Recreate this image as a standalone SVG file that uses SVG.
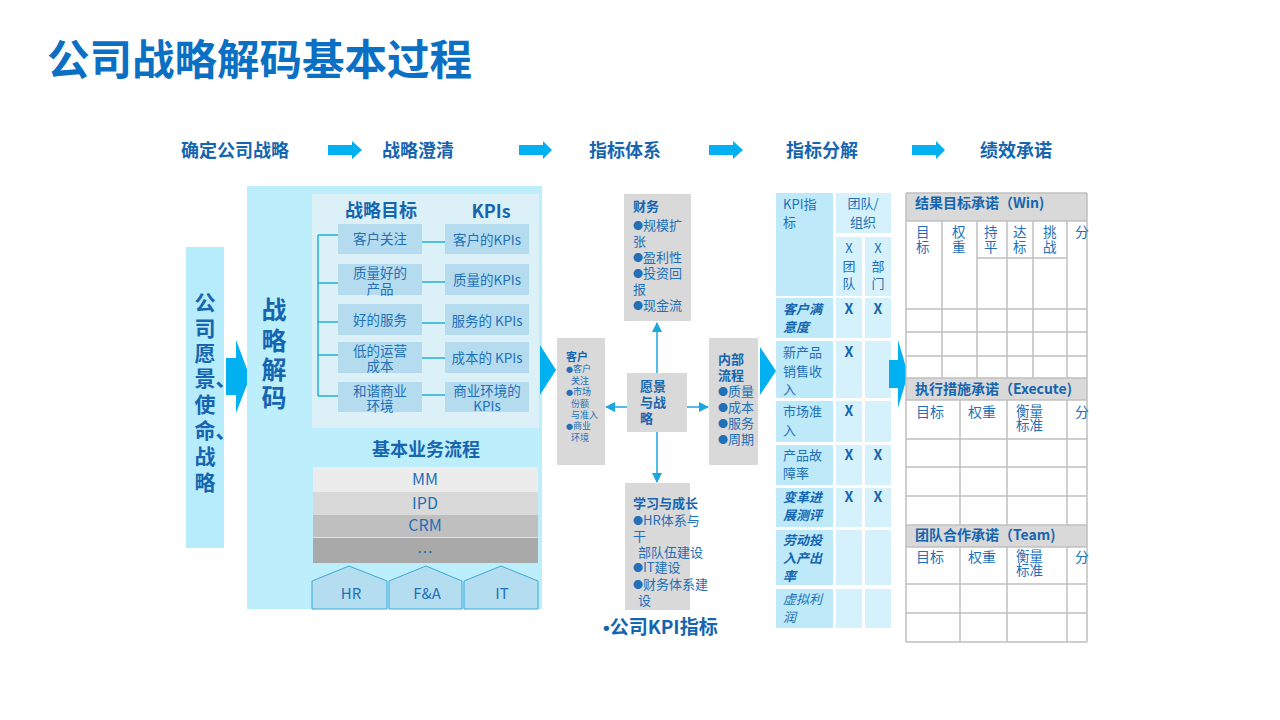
<svg xmlns="http://www.w3.org/2000/svg" width="1280" height="720" viewBox="0 0 1280 720">
<defs>
<style>
text{font-family:"Noto Sans CJK SC","Liberation Sans",sans-serif;fill:#2270b8}
.b{font-weight:bold;fill:#1565b0}
.t13{font-size:13px}
.c{text-anchor:middle}
.row{fill:#b5dcee}
.arr{fill:#00b0f0}
.ln{stroke:#1fb0d8;stroke-width:1.5;fill:none}
.g{stroke:#c0c0c0;stroke-width:1.5;fill:none}
.k1{fill:#bde9f9}
.k2{fill:#d5f1fb}
.hd{fill:#d9d9d9}
.mid{fill:#d9d9d9}
.cl{stroke:#1aa7e0;stroke-width:1.5;fill:none}
.bu{font-size:10px}
.bs{font-size:7px}
</style>
<marker id="ah" viewBox="0 0 10 10" refX="9" refY="5" markerWidth="7" markerHeight="7" orient="auto-start-reverse">
<path d="M0,0 L10,5 L0,10 z" fill="#1aa7e0"/>
</marker>
</defs>
<rect width="1280" height="720" fill="#ffffff"/>

<text x="47" y="75" style="font-size:42.5px;font-weight:bold;fill:#0b6fc4">公司战略解码基本过程</text>

<g id="header">
<text class="b c" x="235" y="157" style="font-size:18px">确定公司战略</text>
<text class="b c" x="418" y="157" style="font-size:18px">战略澄清</text>
<text class="b c" x="625" y="157" style="font-size:18px">指标体系</text>
<text class="b c" x="822" y="157" style="font-size:18px">指标分解</text>
<text class="b c" x="1016" y="157" style="font-size:18px">绩效承诺</text>
<polygon class="arr" points="328,145 352,145 352,141 362,150 352,159 352,155 328,155"/>
<polygon class="arr" points="519,145 543,145 543,141 552,150 543,159 543,155 519,155"/>
<polygon class="arr" points="709,145 733,145 733,141 743,150 733,159 733,155 709,155"/>
<polygon class="arr" points="912,145 936,145 936,141 945,150 936,159 936,155 912,155"/>
</g>

<g id="vision">
<rect x="186" y="247" width="38" height="301" fill="#b7ecfc"/>
<text class="b" style="font-size:21px"><tspan x="194.5" y="310">公</tspan><tspan x="194.5" y="336">司</tspan><tspan x="194.5" y="361">愿</tspan><tspan x="194.5" y="386">景、</tspan><tspan x="194.5" y="412">使</tspan><tspan x="194.5" y="438">命、</tspan><tspan x="194.5" y="464">战</tspan><tspan x="194.5" y="490">略</tspan></text>
</g>

<polygon id="arrow1" class="arr" points="226,358 236,358 236,340 250,377 236,413 236,395 226,395"/>

<g id="decode">
<rect x="247" y="186" width="295" height="423" fill="#bdeefc"/>
<text class="b c" style="font-size:25px"><tspan x="274" y="319">战</tspan><tspan x="274" y="350">略</tspan><tspan x="274" y="379">解</tspan><tspan x="274" y="407">码</tspan></text>
<rect x="312" y="194" width="227" height="234" fill="#dcf0f8"/>
<text class="b c" x="381" y="217" style="font-size:18px">战略目标</text>
<text class="b c" x="491" y="218" style="font-size:18px">KPIs</text>
<path class="ln" d="M318,235 V396 M318,235 H338 M318,283 H338 M318,322 H338 M318,355 H338 M318,396 H338"/>
<path class="ln" d="M422,242 H445 M422,282 H445 M422,323 H445 M422,358 H445 M422,395 H445"/>
<rect class="row" x="338" y="224" width="84" height="30"/>
<rect class="row" x="338" y="264" width="84" height="31"/>
<rect class="row" x="338" y="304" width="84" height="31"/>
<rect class="row" x="338" y="342" width="84" height="31"/>
<rect class="row" x="338" y="382" width="84" height="30"/>
<rect class="row" x="445" y="224" width="84" height="30"/>
<rect class="row" x="445" y="264" width="84" height="31"/>
<rect class="row" x="445" y="304" width="84" height="31"/>
<rect class="row" x="445" y="342" width="84" height="31"/>
<rect class="row" x="445" y="382" width="84" height="30"/>
<g style="font-size:13.5px">
<text class="c" x="380" y="244">客户关注</text>
<text class="c"><tspan x="380" y="278">质量好的</tspan><tspan x="380" y="294">产品</tspan></text>
<text class="c" x="380" y="325">好的服务</text>
<text class="c"><tspan x="380" y="356">低的运营</tspan><tspan x="380" y="371">成本</tspan></text>
<text class="c"><tspan x="380" y="396">和谐商业</tspan><tspan x="380" y="411">环境</tspan></text>
<text class="c" x="487" y="245">客户的KPIs</text>
<text class="c" x="487" y="285">质量的KPIs</text>
<text class="c" x="487" y="326">服务的 KPIs</text>
<text class="c" x="487" y="363">成本的 KPIs</text>
<text class="c"><tspan x="487" y="396">商业环境的</tspan><tspan x="487" y="411">KPIs</tspan></text>
</g>
<text class="b c" x="426" y="456" style="font-size:18px">基本业务流程</text>
<rect x="313" y="467" width="225" height="25" fill="#ececec"/>
<rect x="313" y="492" width="225" height="23" fill="#d9d9d9"/>
<rect x="313" y="515" width="225" height="22" fill="#bfbfbf"/>
<rect x="313" y="538" width="225" height="25" fill="#a9a9a9"/>
<g style="font-size:16px">
<text class="c" x="425" y="485">MM</text>
<text class="c" x="425" y="509">IPD</text>
<text class="c" x="425" y="531">CRM</text>
<text class="c" x="425" y="558">…</text>
</g>
<g fill="#b4def0" stroke="#3aa8d8" stroke-width="1">
<polygon points="312,581 349,566 387,581 387,609 312,609"/>
<polygon points="389,581 426,566 462,581 462,609 389,609"/>
<polygon points="464,581 501,566 538,581 538,609 464,609"/>
</g>
<g style="font-size:15px">
<text class="c" x="351" y="599">HR</text>
<text class="c" x="427" y="599">F&amp;A</text>
<text class="c" x="502" y="599">IT</text>
</g>
</g>

<polygon id="arrow2" class="arr" points="540,345 556,370 540,395"/>

<g id="finance">
<rect class="mid" x="624" y="194" width="67" height="127"/>
<text class="t13"><tspan class="b" x="633" y="211">财务</tspan><tspan x="633" y="230"><tspan class="bu">●</tspan>规模扩</tspan><tspan x="633" y="246">张</tspan><tspan x="633" y="262"><tspan class="bu">●</tspan>盈利性</tspan><tspan x="633" y="278"><tspan class="bu">●</tspan>投资回</tspan><tspan x="633" y="294">报</tspan><tspan x="633" y="310"><tspan class="bu">●</tspan>现金流</tspan></text>
</g>

<g id="customer">
<rect class="mid" x="557" y="338" width="48" height="127"/>
<text style="font-size:9px"><tspan class="b" x="566" y="361" style="font-size:11px">客户</tspan><tspan x="566" y="372"><tspan class="bs">●</tspan>客户</tspan><tspan x="571" y="384">关注</tspan><tspan x="566" y="395"><tspan class="bs">●</tspan>市场</tspan><tspan x="571" y="407">份额</tspan><tspan x="571" y="418">与准入</tspan><tspan x="566" y="429"><tspan class="bs">●</tspan>商业</tspan><tspan x="571" y="441">环境</tspan></text>
</g>

<g id="vision-core">
<rect class="mid" x="627" y="373" width="60" height="59"/>
<text class="b" style="font-size:13px"><tspan x="640" y="391">愿景</tspan><tspan x="640" y="407">与战</tspan><tspan x="640" y="423">略</tspan></text>
</g>

<g id="internal">
<rect class="mid" x="709" y="338" width="49" height="127"/>
<text class="t13"><tspan class="b" x="718" y="364">内部</tspan><tspan class="b" x="718" y="380">流程</tspan><tspan x="718" y="396"><tspan class="bu">●</tspan>质量</tspan><tspan x="718" y="412"><tspan class="bu">●</tspan>成本</tspan><tspan x="718" y="428"><tspan class="bu">●</tspan>服务</tspan><tspan x="718" y="444"><tspan class="bu">●</tspan>周期</tspan></text>
</g>

<g id="learning">
<rect class="mid" x="625" y="483" width="65" height="127"/>
<text class="t13"><tspan class="b" x="633" y="508">学习与成长</tspan><tspan x="633" y="525"><tspan class="bu">●</tspan>HR体系与</tspan><tspan x="633" y="541">干</tspan><tspan x="638" y="557">部队伍建设</tspan><tspan x="633" y="572"><tspan class="bu">●</tspan>IT建设</tspan><tspan x="633" y="589"><tspan class="bu">●</tspan>财务体系建</tspan><tspan x="638" y="605">设</tspan></text>
</g>

<g id="connectors">
<line class="cl" x1="657" y1="373" x2="657" y2="323" marker-end="url(#ah)"/>
<line class="cl" x1="657" y1="432" x2="657" y2="482" marker-end="url(#ah)"/>
<line class="cl" x1="627" y1="407" x2="606" y2="407" marker-end="url(#ah)"/>
<line class="cl" x1="687" y1="407" x2="708" y2="407" marker-end="url(#ah)"/>
</g>

<text class="b" x="603" y="634" style="font-size:19px"><tspan style="font-family:'Liberation Sans',sans-serif">•</tspan>公司KPI指标</text>

<polygon id="arrow3" class="arr" points="760,347 776,371 760,395"/>

<g id="kpi-table">
<rect class="k1" x="776" y="193" width="57" height="103"/>
<rect class="k2" x="836" y="193" width="55" height="40"/>
<rect class="k2" x="836" y="237" width="26" height="59"/>
<rect class="k2" x="865" y="237" width="26" height="59"/>
<rect class="k1" x="776" y="298" width="57" height="40"/>
<rect class="k2" x="836" y="298" width="26" height="40"/>
<rect class="k2" x="865" y="298" width="26" height="40"/>
<rect class="k1" x="776" y="341" width="57" height="57"/>
<rect class="k2" x="836" y="341" width="26" height="57"/>
<rect class="k2" x="865" y="341" width="26" height="57"/>
<rect class="k1" x="776" y="401" width="57" height="41"/>
<rect class="k2" x="836" y="401" width="26" height="41"/>
<rect class="k2" x="865" y="401" width="26" height="41"/>
<rect class="k1" x="776" y="445" width="57" height="40"/>
<rect class="k2" x="836" y="445" width="26" height="40"/>
<rect class="k2" x="865" y="445" width="26" height="40"/>
<rect class="k1" x="776" y="488" width="57" height="39"/>
<rect class="k2" x="836" y="488" width="26" height="39"/>
<rect class="k2" x="865" y="488" width="26" height="39"/>
<rect class="k1" x="776" y="530" width="57" height="55"/>
<rect class="k2" x="836" y="530" width="26" height="55"/>
<rect class="k2" x="865" y="530" width="26" height="55"/>
<rect class="k1" x="776" y="589" width="57" height="39"/>
<rect class="k2" x="836" y="589" width="26" height="39"/>
<rect class="k2" x="865" y="589" width="26" height="39"/>
<g class="t13">
<text><tspan x="783" y="209">KPI指</tspan><tspan x="783" y="227">标</tspan></text>
<text class="c"><tspan x="863" y="208">团队/</tspan><tspan x="863" y="227">组织</tspan></text>
<text class="c"><tspan x="849" y="253">X</tspan><tspan x="849" y="271">团</tspan><tspan x="849" y="288">队</tspan></text>
<text class="c"><tspan x="878" y="253">X</tspan><tspan x="878" y="271">部</tspan><tspan x="878" y="288">门</tspan></text>
<text class="b" style="font-style:italic"><tspan x="783" y="314">客户满</tspan><tspan x="783" y="332">意度</tspan></text>
<text><tspan x="783" y="357">新产品</tspan><tspan x="783" y="376">销售收</tspan><tspan x="783" y="394">入</tspan></text>
<text><tspan x="783" y="416">市场准</tspan><tspan x="783" y="435">入</tspan></text>
<text><tspan x="783" y="460">产品故</tspan><tspan x="783" y="478">障率</tspan></text>
<text class="b" style="font-style:italic"><tspan x="783" y="502">变革进</tspan><tspan x="783" y="520">展测评</tspan></text>
<text class="b" style="font-style:italic"><tspan x="783" y="545">劳动投</tspan><tspan x="783" y="563">入产出</tspan><tspan x="783" y="581">率</tspan></text>
<text style="font-style:italic"><tspan x="783" y="604">虚拟利</tspan><tspan x="783" y="622">润</tspan></text>
</g>
<g class="b" style="font-size:14px">
<text class="b c" x="849" y="314">X</text>
<text class="b c" x="878" y="314">X</text>
<text class="b c" x="849" y="357">X</text>
<text class="b c" x="849" y="416">X</text>
<text class="b c" x="849" y="460">X</text>
<text class="b c" x="878" y="460">X</text>
<text class="b c" x="849" y="502">X</text>
<text class="b c" x="878" y="502">X</text>
</g>
</g>

<polygon id="arrow4" class="arr" points="889,360 898,360 898,340 908,374 898,408 898,388 889,388"/>

<g id="commit-table">
<rect x="906" y="193" width="181" height="449" fill="#ffffff"/>
<rect class="hd" x="906" y="193" width="181" height="28"/>
<rect class="hd" x="906" y="378" width="181" height="22"/>
<rect class="hd" x="906" y="525" width="181" height="22"/>
<path class="g" d="M906,193 V642 M1087,193 V642 M906,193 H1087 M906,221 H1087 M906,309 H1087 M906,332 H1087 M906,356 H1087 M906,378 H1087 M906,400 H1087 M906,439 H1087 M906,467 H1087 M906,496 H1087 M906,525 H1087 M906,547 H1087 M906,584 H1087 M906,613 H1087 M906,642 H1087 M977,258 H1067"/>
<path class="g" d="M942,221 V378 M977,221 V378 M1007,221 V378 M1033,221 V378 M1067,221 V378 M960,400 V525 M1007,400 V525 M1067,400 V525 M960,547 V642 M1007,547 V642 M1067,547 V642"/>
<g class="b" style="font-size:14px">
<text class="b" x="915" y="208">结果目标承诺（Win)</text>
<text class="b" x="915" y="394">执行措施承诺（Execute)</text>
<text class="b" x="915" y="540">团队合作承诺（Team)</text>
</g>
<g style="font-size:14px">
<text style="font-size:13.5px"><tspan x="916" y="237">目</tspan><tspan x="916" y="252">标</tspan></text>
<text style="font-size:13.5px"><tspan x="952" y="237">权</tspan><tspan x="952" y="252">重</tspan></text>
<text style="font-size:13.5px"><tspan x="984" y="237">持</tspan><tspan x="984" y="252">平</tspan></text>
<text style="font-size:13.5px"><tspan x="1013" y="237">达</tspan><tspan x="1013" y="252">标</tspan></text>
<text style="font-size:13.5px"><tspan x="1043" y="237">挑</tspan><tspan x="1043" y="252">战</tspan></text>
<text x="1075" y="237">分</text>
<text x="916" y="417">目标</text>
<text x="968" y="417">权重</text>
<text style="font-size:13.5px"><tspan x="1016" y="416">衡量</tspan><tspan x="1016" y="429.5">标准</tspan></text>
<text x="1075" y="417">分</text>
<text x="916" y="562">目标</text>
<text x="968" y="562">权重</text>
<text style="font-size:13.5px"><tspan x="1016" y="561">衡量</tspan><tspan x="1016" y="574.5">标准</tspan></text>
<text x="1075" y="562">分</text>
</g>
</g>
</svg>
